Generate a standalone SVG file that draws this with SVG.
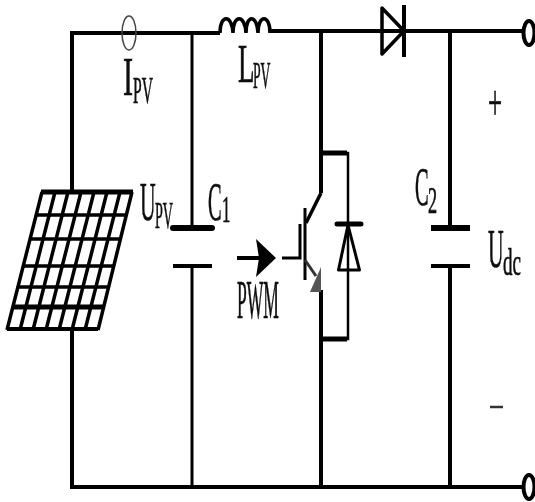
<svg xmlns="http://www.w3.org/2000/svg" width="535" height="502" viewBox="0 0 535 502">
<style>
.w{fill:none;stroke:#000;stroke-width:4}
.n{fill:none;stroke:#000;stroke-width:3}
.t{font-family:"Liberation Serif","Times New Roman",serif;fill:#111;stroke:#111;stroke-width:.7}
.b{font-size:54px}
.s{font-size:38px}
</style>
<defs><filter id="soft" x="-5%" y="-5%" width="110%" height="110%"><feGaussianBlur stdDeviation="0.5"/></filter></defs>
<rect width="535" height="502" fill="#fff"/>
<g filter="url(#soft)">
<g id="connectors">
<path class="w" d="M72 190V33H220M270 31H523M72 330V487H523"/>
<path class="n" d="M192 33V228M192 266V487"/>
<path class="w" d="M321 31V193M321 290V487"/>
<path class="w" d="M450 31V228M450 266V487"/>
<path class="w" d="M237 258H262"/>
</g>
<g id="sensor"><ellipse cx="129" cy="33" rx="7" ry="17" fill="none" stroke="#444" stroke-width="1.500"/></g>
<g id="inductor"><path fill="none" stroke="#000" stroke-width="3.500" d="M220 33C220 14 232 14 233 33C233 14 245 14 246 33C246 14 257 14 258 33C258 14 270 14 270 33"/></g>
<g id="solar-panel">
<path fill="none" stroke="#000" stroke-width="3.500" d="M42 192L7 330M55 192L20 330M68 192L33 330M81 192L46 330M94 192L59 330M107 192L72 330M120 192L85 330M132 192L98 330"/>
<path fill="none" stroke="#000" stroke-width="3.500" d="M36 215H127M30 239H121M23 266H114M18 287H109"/>
<path fill="none" stroke="#000" stroke-width="5" d="M41 192H133M12 307H105"/>
<path fill="none" stroke="#000" stroke-width="4" d="M7 329H98"/>
</g>
<g id="capacitor-c1"><path d="M173 228H212" stroke="#000" stroke-width="6" stroke-linecap="round"/><path d="M173 266H212" stroke="#000" stroke-width="4"/></g>
<g id="capacitor-c2"><path d="M431 228H470" stroke="#000" stroke-width="6"/><path d="M431 266H470" stroke="#000" stroke-width="4"/></g>
<g id="diode"><path d="M382 8L404 31L382 54Z" fill="none" stroke="#000" stroke-width="3.500" stroke-linejoin="round"/><path d="M404 5V57" stroke="#000" stroke-width="4"/></g>
<g id="terminal-top"><ellipse cx="529" cy="33" rx="5.500" ry="12" fill="#fff" stroke="#000" stroke-width="4"/></g>
<g id="terminal-bottom"><ellipse cx="529" cy="487" rx="5.500" ry="12" fill="#fff" stroke="#000" stroke-width="4"/></g>
<g id="pwm-arrow"><path d="M256 239L276 258L256 277L259 258Z" fill="#000"/></g>
<g id="igbt">
<path d="M321 193L306 223" stroke="#000" stroke-width="3.500" fill="none"/>
<path d="M305 208V280" stroke="#000" stroke-width="3" fill="none"/>
<path d="M282 258H300V224" stroke="#000" stroke-width="3" fill="none"/>
<path d="M305 260L316 276" stroke="#333" stroke-width="3" fill="none"/>
<path d="M321 267L310 292H321Z" fill="#555"/>
<path d="M321 153H348V339H321" fill="none" stroke="#000" stroke-width="2.500"/>
<path d="M321 153H347M321 339H347" fill="none" stroke="#000" stroke-width="5"/>
<path d="M337 224H361" stroke="#000" stroke-width="5" stroke-linecap="round"/>
<path d="M348 225L338.500 270H359.500Z" fill="#fff" stroke="#000" stroke-width="3" stroke-linejoin="round"/>
<path d="M348 224V270" stroke="#000" stroke-width="2.500"/>
</g>
<g id="labels">
<text class="t b" transform="translate(123 95) scale(.56 1)">I</text>
<text class="t s" transform="translate(133 103) scale(.41 1)">PV</text>
<text class="t b" transform="translate(238 82) scale(.5 1)">L</text>
<text class="t s" transform="translate(253 88) scale(.36 1)">PV</text>
<text class="t b" transform="translate(140 220) scale(.4 1)">U</text>
<text class="t s" transform="translate(155 228) scale(.37 1)">PV</text>
<text class="t b" transform="translate(208 220) scale(.38 1)">C</text>
<text class="t s" transform="translate(222 222) scale(.44 1)">1</text>
<text class="t b" transform="translate(415 205) scale(.38 1)">C</text>
<text class="t s" transform="translate(428 213) scale(.48 1)">2</text>
<text class="t b" transform="translate(488 267) scale(.4 1)">U</text>
<text class="t s" transform="translate(503 275) scale(.5 1)">dc</text>
<text class="t" font-size="54" transform="translate(237 318) scale(.325 1)">PWM</text>
<text class="t" font-size="50" transform="translate(488 120) scale(.5 1)">+</text>
<path d="M490 407H503" stroke="#333" stroke-width="2.500"/>
</g>
</g>
</svg>
